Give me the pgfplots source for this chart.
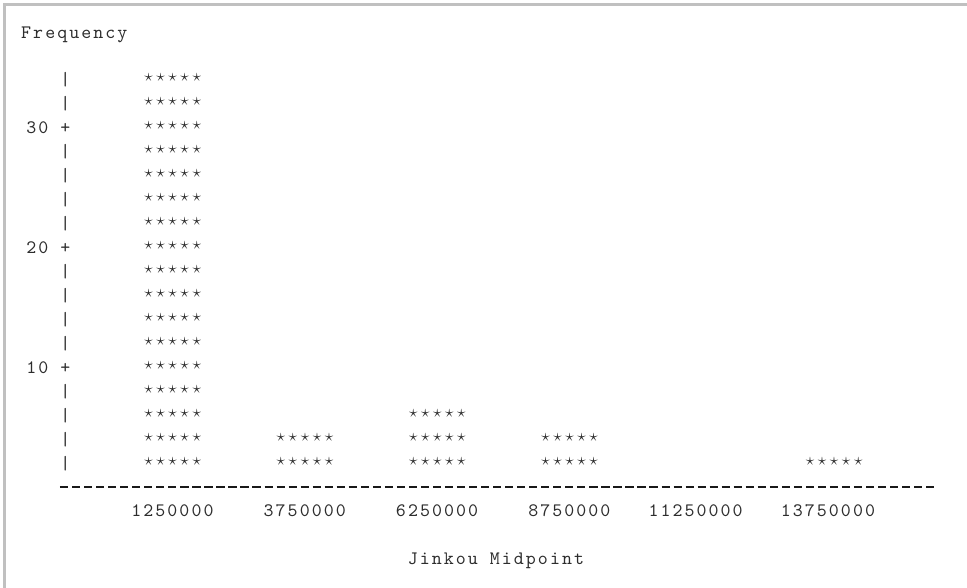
\documentclass[border=0pt]{standalone}
\usepackage{fontspec}
\usepackage{pgfplots}
\pgfplotsset{compat=1.18}
\newfontfamily\cour{lmmono10-regular.otf}[LetterSpace=10.8]
\definecolor{txt}{RGB}{45,45,45}
\definecolor{frame}{RGB}{192,192,192}
\newcommand{\stars}{{\fontsize{17}{17}\selectfont\makebox[12.03pt]{$\star$}\makebox[12.03pt]{$\star$}\makebox[12.03pt]{$\star$}\makebox[12.03pt]{$\star$}\makebox[12.03pt]{$\star$}}}
\begin{document}
\begin{tikzpicture}[x=1pt,y=1pt]
\useasboundingbox (0,0) rectangle (967,588);
\begin{axis}[
  at={(60pt,101pt)}, anchor=south west,
  scale only axis, width=875.3pt, height=434pt,
  xmin=-0.852, xmax=5.764, ymin=-0.1667, ymax=36,
  clip=false,
  axis lines*=left,
  y axis line style={draw=none},
  x axis line style={-, line width=1.6pt, color=black!90, dash pattern=on 8.2pt off 3.83pt},
  major tick length=0pt,
  font=\cour\fontsize{19}{24}\selectfont,
  xtick={0,1,2,3,4,5},
  xticklabels={1250000,3750000,6250000,8750000,11250000,13750000},
  xticklabel style={anchor=base east, inner sep=0pt, xshift=41pt, yshift=-30pt, text=txt},
  ytick={2,4,...,34},
  yticklabels={|,|,|,|,10 +,|,|,|,|,20 +,|,|,|,|,30 +,|,|},
  yticklabel style={anchor=base east, inner sep=0pt, xshift=10.5pt, yshift=-9pt, text=txt},
  every axis x label/.style={at={(axis description cs:0.498,0)}, anchor=base, inner sep=0pt, yshift=-78pt, text=txt},
  every axis y label/.style={at={(axis description cs:0,1)}, anchor=base west, inner sep=0pt, xshift=-39pt, yshift=14.7pt, text=txt},
  xlabel={Jinkou Midpoint},
  ylabel={Frequency},
]
\addplot[draw=none, mark=none, nodes near coords={\stars},
  nodes near coords align={center},
  every node near coord/.append style={inner sep=0pt, text=txt}]
  table[x=k, y=row] {
k row
0 2
0 4
0 6
0 8
0 10
0 12
0 14
0 16
0 18
0 20
0 22
0 24
0 26
0 28
0 30
0 32
0 34
1 2
1 4
2 2
2 4
2 6
3 2
3 4
5 2
};
\end{axis}
\draw[frame, line width=3pt] (4.8,0) -- (4.8,583.8) -- (967,583.8);
\end{tikzpicture}
\end{document}
